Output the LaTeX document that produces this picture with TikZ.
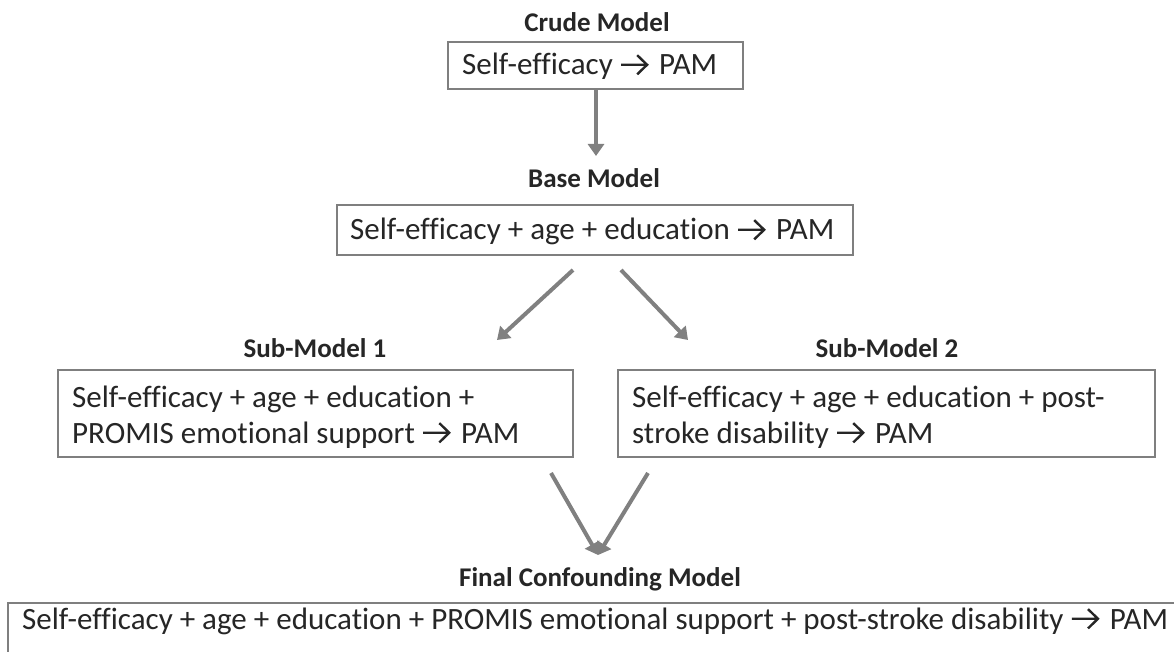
\documentclass[tikz,border=0pt]{standalone}
\usepackage{fontspec}
\setmainfont{Carlito}[Ligatures=CommonOff]
\usetikzlibrary{arrows.meta}
\definecolor{boxgray}{HTML}{7F7F7F}
\definecolor{arrowgray}{HTML}{808080}
\definecolor{inkgray}{HTML}{262626}
% chevron arrow used inside the model formulas
\newcommand{\pamarrow}{\tikz[x=1pt,y=1pt,baseline=0pt]
  \draw[inkgray,line width=2.4pt,line cap=butt,line join=miter]
  (0,0.33em) -- (0.82em,0.33em) (0.52em,0.64em) -- (0.84em,0.33em) -- (0.52em,0.02em);\hspace{0.12em}}
\begin{document}
\begin{tikzpicture}[x=1pt,y=-1pt,
  modelbox/.style={draw=boxgray,line width=1.8pt,fill=white,anchor=north west,
    inner sep=0pt,outer sep=0pt},
  formula/.style={text=inkgray,font=\fontsize{31}{36}\selectfont,anchor=base west,inner sep=0pt},
  title/.style={text=inkgray,font=\fontsize{27}{30}\selectfont\bfseries,anchor=base,inner sep=0pt},
  flow/.style={draw=arrowgray,line width=4pt,
    -{Triangle[width=16pt,length=12pt]}}]
\useasboundingbox (0,0) rectangle (1174,652);
\clip (0,0) rectangle (1174,652);

% titles
\node[title] (tcrude) at (597,32) {Crude Model};
\node[title] (tbase) at (594,188) {Base Model};
\node[title] (tsub1) at (315,357) {Sub-Model 1};
\node[title] (tsub2) at (887,357) {Sub-Model 2};
\node[title] (tfinal) at (600,586) {Final Confounding Model};

% model boxes
\node[modelbox,minimum width=295pt,minimum height=47pt] (crude) at (448,42) {};
\node[formula] (fcrude) at (462,75) {Self-efficacy \pamarrow\ PAM};

\node[modelbox,minimum width=516pt,minimum height=50pt] (base) at (337,205) {};
\node[formula] (fbase) at (350,240) {Self-efficacy + age + education \pamarrow\ PAM};

\node[modelbox,minimum width=515pt,minimum height=87pt] (sub1) at (58,370) {};
\node[formula] (fsub1a) at (72,407) {Self-efficacy + age + education +};
\node[formula] (fsub1b) at (72,443) {PROMIS emotional support \pamarrow\ PAM};

\node[modelbox,minimum width=537pt,minimum height=87pt] (sub2) at (618,370) {};
\node[formula] (fsub2a) at (632,407) {Self-efficacy + age + education + post-};
\node[formula] (fsub2b) at (632,443) {stroke disability \pamarrow\ PAM};

\node[modelbox,minimum width=1180pt,minimum height=60pt] (final) at (8,603) {};
\node[formula] (ffinal) at (22,629)
  {Self-efficacy + age + education + PROMIS emotional support + post-stroke disability \pamarrow\ PAM};

% connector ends
\coordinate (c0) at (596,90);
\coordinate (c1) at (596,156);
\coordinate (b0) at (573,270);
\coordinate (b1) at (497,340);
\coordinate (b2) at (621,270);
\coordinate (b3) at (688,340);
\coordinate (s0) at (551,473);
\coordinate (s1) at (648,473);
\coordinate (m0) at (598,555);

\draw[flow] (c0) -- (c1);
\draw[flow] (b0) -- (b1);
\draw[flow] (b2) -- (b3);
\draw[flow] (s0) -- (m0);
\draw[flow] (s1) -- (m0);
\end{tikzpicture}
\end{document}
